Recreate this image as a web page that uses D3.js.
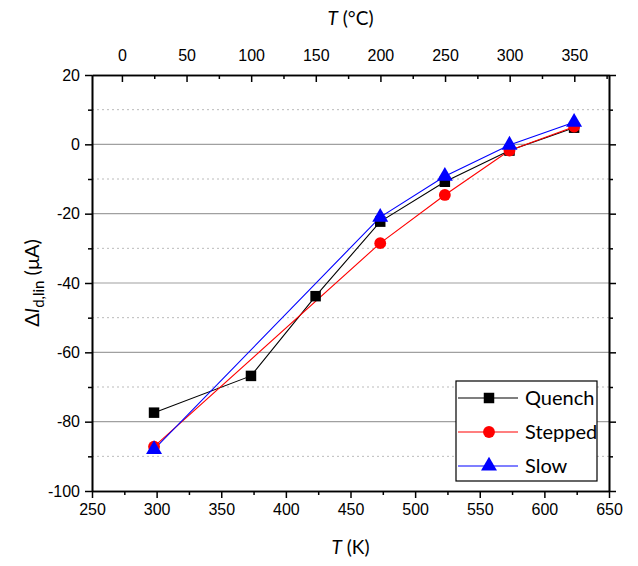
<!DOCTYPE html>
<html lang="en">
<head>
  <meta charset="UTF-8" />
  <title>Delta Id,lin vs T</title>
  <style>
    body { margin: 0; background: #fff; }
    svg { font-family: Lato, "Open Sans", sans-serif; }
    .tick text { font-size: 16px; fill: #000; }
  </style>
</head>
<body>
  <div id="chart"></div>
  <script src="https://d3js.org/d3.v7.min.js"></script>
  <script>
    // Data
    const quenchT = [298, 373, 423, 473, 523, 573, 623];
    const quenchI = [-77.4, -66.8, -43.8, -22.3, -10.8, -1.8, 4.8];
    const steppedT = [298, 473, 523, 573, 623];
    const steppedI = [-87.2, -28.5, -14.6, -1.8, 5.1];
    const slowT = [298, 473, 523, 573, 623];
    const slowI = [-88.0, -21.0, -9.2, -0.2, 6.4];

    const xTicks = [250, 300, 350, 400, 450, 500, 550, 600, 650];
    const yTicks = [20, 0, -20, -40, -60, -80, -100];
    const celsiusTicks = [0, 50, 100, 150, 200, 250, 300, 350];

    const W = 638, H = 566;
    const margin = { top: 75, right: 29, bottom: 75, left: 92 };
    const width = W - margin.left - margin.right;
    const height = H - margin.top - margin.bottom;

    const svg = d3.select("#chart").append("svg")
      .attr("width", W).attr("height", H);
    const g = svg.append("g").attr("transform", `translate(${margin.left},${margin.top})`);

    const x = d3.scaleLinear().domain([250, 650]).range([0, width]);
    const y = d3.scaleLinear().domain([-100, 20]).range([height, 0]);
    const plain = d => String(d);

    // Grid lines
    const minorY = d3.range(-90, 20, 20);
    g.selectAll(".gminor").data(minorY).enter().append("line")
      .attr("x1", 0).attr("x2", width)
      .attr("y1", d => y(d)).attr("y2", d => y(d))
      .attr("stroke", "#bbb").attr("stroke-dasharray", "2,3");
    g.selectAll(".gmajor").data([0, -20, -40, -60, -80]).enter().append("line")
      .attr("x1", 0).attr("x2", width)
      .attr("y1", d => y(d)).attr("y2", d => y(d))
      .attr("stroke", "#a0a0a0").attr("stroke-width", 1.2);

    function styleAxis(sel) {
      sel.select(".domain").attr("stroke", "#000").attr("stroke-width", 1.6);
      sel.selectAll(".tick line").attr("stroke", "#000").attr("stroke-width", 1.5);
    }

    // Bottom axis
    const xb = g.append("g").attr("transform", `translate(0,${height})`)
      .call(d3.axisBottom(x).tickValues(xTicks).tickFormat(plain).tickSize(7).tickPadding(6).tickSizeOuter(0));
    styleAxis(xb);
    g.append("g").attr("transform", `translate(0,${height})`)
      .call(d3.axisBottom(x).tickValues(d3.range(275, 650, 50)).tickSize(4).tickFormat("").tickSizeOuter(0))
      .call(styleAxis);

    // Top axis (Celsius)
    const xc = d3.scaleLinear().domain([250 - 273.15, 650 - 273.15]).range([0, width]);
    const xt = g.append("g")
      .call(d3.axisTop(xc).tickValues(celsiusTicks).tickFormat(plain).tickSize(-7).tickPadding(14).tickSizeOuter(0));
    styleAxis(xt);
    g.append("g")
      .call(d3.axisTop(xc).tickValues(d3.range(25, 376, 50)).tickSize(-4).tickFormat("").tickSizeOuter(0))
      .call(styleAxis);

    // Left axis
    const yl = g.append("g")
      .call(d3.axisLeft(y).tickValues(yTicks).tickFormat(plain).tickSize(7).tickPadding(5).tickSizeOuter(0));
    styleAxis(yl);
    g.append("g")
      .call(d3.axisLeft(y).tickValues(minorY).tickSize(4).tickFormat("").tickSizeOuter(0))
      .call(styleAxis);

    // Right axis
    g.append("g").attr("transform", `translate(${width},0)`)
      .call(d3.axisRight(y).tickValues(yTicks).tickSize(7).tickFormat("").tickSizeOuter(0))
      .call(styleAxis);
    g.append("g").attr("transform", `translate(${width},0)`)
      .call(d3.axisRight(y).tickValues(minorY).tickSize(4).tickFormat("").tickSizeOuter(0))
      .call(styleAxis);

    g.selectAll(".tick text").style("font-size", "16px");

    // Series
    const series = [
      { name: "Quench", T: quenchT, I: quenchI, color: "#000", shape: d3.symbolSquare, size: 110 },
      { name: "Stepped", T: steppedT, I: steppedI, color: "#ff0000", shape: d3.symbolCircle, size: 110 },
      { name: "Slow", T: slowT, I: slowI, color: "#0000ff", shape: d3.symbolTriangle, size: 110 }
    ];

    const line = d3.line().x(d => x(d[0])).y(d => y(d[1]));
    series.forEach(s => {
      const pts = s.T.map((t, i) => [t, s.I[i]]);
      g.append("path").datum(pts)
        .attr("fill", "none").attr("stroke", s.color).attr("stroke-width", 1.1)
        .attr("d", line);
    });
    series.forEach(s => {
      const pts = s.T.map((t, i) => [t, s.I[i]]);
      g.selectAll(null).data(pts).enter().append("path")
        .attr("transform", d => `translate(${x(d[0])},${y(d[1])})`)
        .attr("d", d3.symbol().type(s.shape).size(s.size))
        .attr("fill", s.color);
    });

    // Legend
    const lg = g.append("g").attr("transform", `translate(${456 - margin.left},${381 - margin.top})`);
    lg.append("rect").attr("width", 141).attr("height", 100)
      .attr("fill", "#fff").attr("stroke", "#000").attr("stroke-width", 1.2);
    series.forEach((s, i) => {
      const cy = 17 + i * 34;
      lg.append("line").attr("x1", 2).attr("x2", 62).attr("y1", cy).attr("y2", cy)
        .attr("stroke", s.color).attr("stroke-width", 1.1);
      lg.append("path").attr("transform", `translate(33,${cy})`)
        .attr("d", d3.symbol().type(s.shape).size(s.size)).attr("fill", s.color);
      lg.append("text").attr("x", 69).attr("y", cy + 7)
        .style("font-size", "20px").text(s.name);
    });

    // Axis titles
    svg.append("text").attr("x", margin.left + width / 2).attr("y", 554)
      .attr("text-anchor", "middle").style("font-size", "19px")
      .html('<tspan font-style="italic">T</tspan> (K)');
    svg.append("text").attr("x", margin.left + width / 2).attr("y", 25)
      .attr("text-anchor", "middle").style("font-size", "19px")
      .html('<tspan font-style="italic">T</tspan> (°C)');
    svg.append("text").attr("transform", `translate(39,${margin.top + height / 2}) rotate(-90)`)
      .attr("text-anchor", "middle").style("font-size", "20px")
      .html('Δ<tspan font-style="italic">I</tspan><tspan dy="5" font-size="15px">d,lin</tspan><tspan dy="-5"> (μA)</tspan>');
  </script>
</body>
</html>
